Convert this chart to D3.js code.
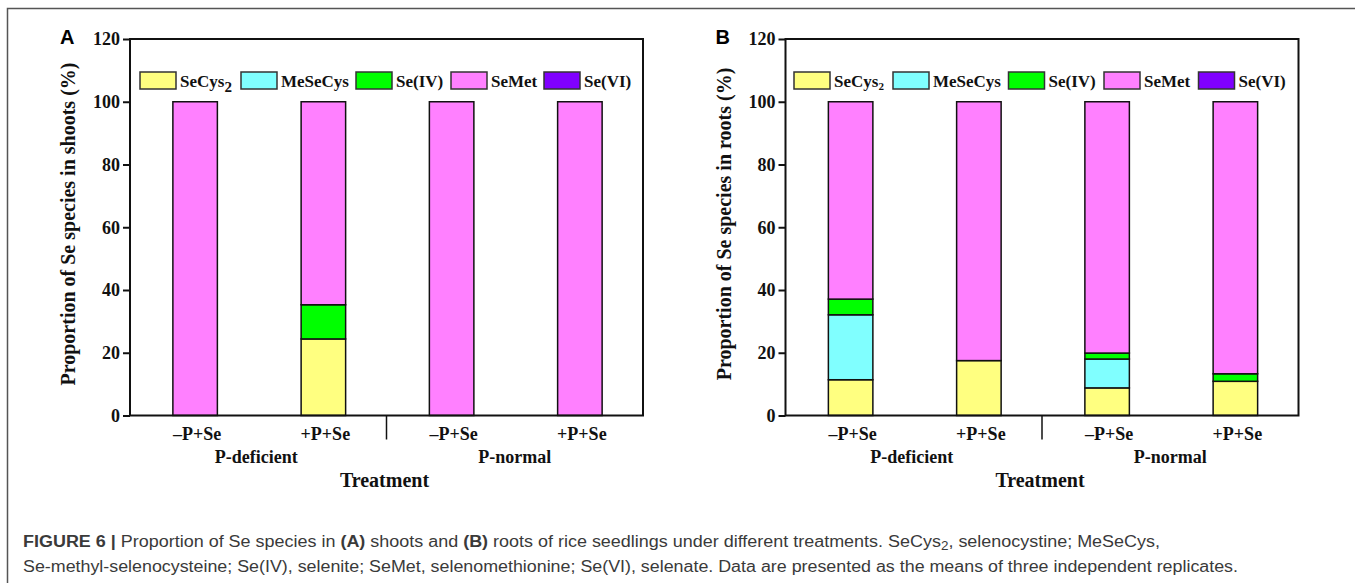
<!DOCTYPE html>
<html>
<head>
<meta charset="utf-8" />
<title>Proportion of Se species</title>
<script src="https://cdnjs.cloudflare.com/ajax/libs/d3/7.8.5/d3.min.js"></script>
<style>
  body { margin: 0; background: #fff; }
  .tick text { font-family: 'Liberation Serif', 'Times New Roman', serif; font-weight: bold; font-size: 18px; fill: #111; }
  .lab { font-family: 'Liberation Serif', 'Times New Roman', serif; font-weight: bold; fill: #111; }
  .panel { font-family: 'Liberation Sans', Arial, sans-serif; font-weight: bold; font-size: 20px; }
  .cap { font-family: 'Liberation Sans', Arial, sans-serif; font-size: 16px; fill: #3a3a3a; }
</style>
</head>
<body>
<script>
// categories
const treatments = ["–P+Se", "+P+Se", "–P+Se", "+P+Se"];
const groups = ["P-deficient", "P-normal"];
const species = ["SeCys2", "MeSeCys", "Se(IV)", "SeMet", "Se(VI)"];
const colors = ["#ffff80", "#80ffff", "#00ff00", "#ff80ff", "#8000ff"];
const yTicks = [0, 20, 40, 60, 80, 100, 120];

// (A) shoots, % of each species per treatment
const shootSeCys2  = [0, 24.4, 0, 0];
const shootMeSeCys = [0, 0, 0, 0];
const shootSeIV    = [0, 10.9, 0, 0];
const shootSeMet   = [100, 64.7, 100, 100];
const shootSeVI    = [0, 0, 0, 0];

// (B) roots
const rootSeCys2  = [11.4, 17.5, 8.8, 10.9];
const rootMeSeCys = [20.7, 0, 9.2, 0];
const rootSeIV    = [5.0, 0, 1.9, 2.4];
const rootSeMet   = [62.9, 82.5, 80.1, 86.7];
const rootSeVI    = [0, 0, 0, 0];

const W = 1355, H = 583;
const svg = d3.select("body").append("svg").attr("width", W).attr("height", H);

// outer figure frame
svg.append("rect")
  .attr("x", 7.5).attr("y", 8.5).attr("width", 1400).attr("height", 700)
  .attr("fill", "none").attr("stroke", "#555").attr("stroke-width", 1.5);

function drawPanel(ox, letter, organ, series, legendOffsets) {
  const pw = 513;
  const x = d3.scaleBand().domain(d3.range(4)).range([ox, ox + pw]);
  const y = d3.scaleLinear().domain([0, 120]).range([415.5, 39]);
  const g = svg.append("g");

  // build stacked rows
  const rows = d3.range(4).map(i => {
    const r = { i: i };
    species.forEach((s, k) => r[s] = series[k][i]);
    return r;
  });
  const stack = d3.stack().keys(species)(rows);
  const bw = x.bandwidth() * 0.347;

  stack.forEach((layer, k) => {
    g.selectAll(null)
      .data(layer.filter(d => d[1] - d[0] > 0))
      .enter()
      .append("rect")
      .attr("x", d => x(d.data.i) + x.bandwidth() / 2 - bw / 2 + 1)
      .attr("y", d => y(d[1]))
      .attr("width", bw)
      .attr("height", d => y(d[0]) - y(d[1]))
      .attr("fill", colors[k])
      .attr("stroke", "#111")
      .attr("stroke-width", 1.5);
  });

  // y axis
  const yAxis = d3.axisLeft(y).tickValues(yTicks).tickSize(7).tickPadding(3);
  const ga = g.append("g").attr("transform", "translate(" + ox + ",0)").call(yAxis);
  ga.select(".domain").remove();
  ga.selectAll(".tick line").attr("stroke", "#111").attr("stroke-width", 2);

  // plot frame
  g.append("rect")
    .attr("x", ox).attr("y", y(120)).attr("width", pw).attr("height", y(0) - y(120))
    .attr("fill", "none").attr("stroke", "#111").attr("stroke-width", 2);

  // group separator
  g.append("line")
    .attr("x1", ox + pw / 2).attr("x2", ox + pw / 2)
    .attr("y1", y(0)).attr("y2", y(0) + 24)
    .attr("stroke", "#111").attr("stroke-width", 1.5);

  // treatment labels
  g.selectAll(null).data(treatments).enter().append("text")
    .attr("class", "lab")
    .attr("x", (d, i) => x(i) + x.bandwidth() / 2 + 3)
    .attr("y", 440)
    .attr("text-anchor", "middle")
    .style("font-size", "18px")
    .text(d => d);

  g.selectAll(null).data(groups).enter().append("text")
    .attr("class", "lab")
    .attr("x", (d, i) => ox + pw / 4 + i * pw / 2 + (i === 0 ? -2 : 0))
    .attr("y", 463)
    .attr("text-anchor", "middle")
    .style("font-size", "18px")
    .text(d => d);

  g.append("text").attr("class", "lab")
    .attr("x", ox + pw / 2 - 2).attr("y", 487)
    .attr("text-anchor", "middle").style("font-size", "20px")
    .text("Treatment");

  g.append("text").attr("class", "lab")
    .attr("transform", "translate(" + (ox - 55) + ",224) rotate(-90)")
    .attr("text-anchor", "middle").style("font-size", "20px")
    .text("Proportion of Se species in " + organ + " (%)");

  g.append("text").attr("class", "panel")
    .attr("x", ox - 70).attr("y", 44).text(letter);

  // legend
  species.forEach((s, k) => {
    const lx = ox + legendOffsets[k];
    g.append("rect")
      .attr("x", lx).attr("y", 72).attr("width", 36).attr("height", 17)
      .attr("fill", colors[k]).attr("stroke", "#333").attr("stroke-width", 1.5);
    const t = g.append("text").attr("class", "lab")
      .attr("x", lx + 40).attr("y", 87).style("font-size", "17px");
    if (s === "SeCys2") {
      t.append("tspan").text("SeCys");
      t.append("tspan").attr("dy", letter === "A" ? 5 : 3)
        .style("font-size", letter === "A" ? "15px" : "11px").text("2");
    } else {
      t.text(s);
    }
  });
}

drawPanel(130, "A", "shoots",
  [shootSeCys2, shootMeSeCys, shootSeIV, shootSeMet, shootSeVI],
  [10, 111, 226, 321, 414]);
drawPanel(785.5, "B", "roots",
  [rootSeCys2, rootMeSeCys, rootSeIV, rootSeMet, rootSeVI],
  [8.5, 107.5, 223, 318.5, 413]);

// caption
const c1 = svg.append("text").attr("class", "cap").attr("x", 23).attr("y", 547)
  .attr("textLength", 1137).attr("lengthAdjust", "spacingAndGlyphs");
c1.append("tspan").style("font-weight", "bold").text("FIGURE 6 | ");
c1.append("tspan").text("Proportion of Se species in ");
c1.append("tspan").style("font-weight", "bold").text("(A)");
c1.append("tspan").text(" shoots and ");
c1.append("tspan").style("font-weight", "bold").text("(B)");
c1.append("tspan").text(" roots of rice seedlings under different treatments. SeCys");
c1.append("tspan").attr("dy", 3).style("font-size", "12px").text("2");
c1.append("tspan").attr("dy", -3).text(", selenocystine; MeSeCys,");

svg.append("text").attr("class", "cap").attr("x", 23).attr("y", 572)
  .attr("textLength", 1215).attr("lengthAdjust", "spacingAndGlyphs")
  .text("Se-methyl-selenocysteine; Se(IV), selenite; SeMet, selenomethionine; Se(VI), selenate. Data are presented as the means of three independent replicates.");
</script>
</body>
</html>
